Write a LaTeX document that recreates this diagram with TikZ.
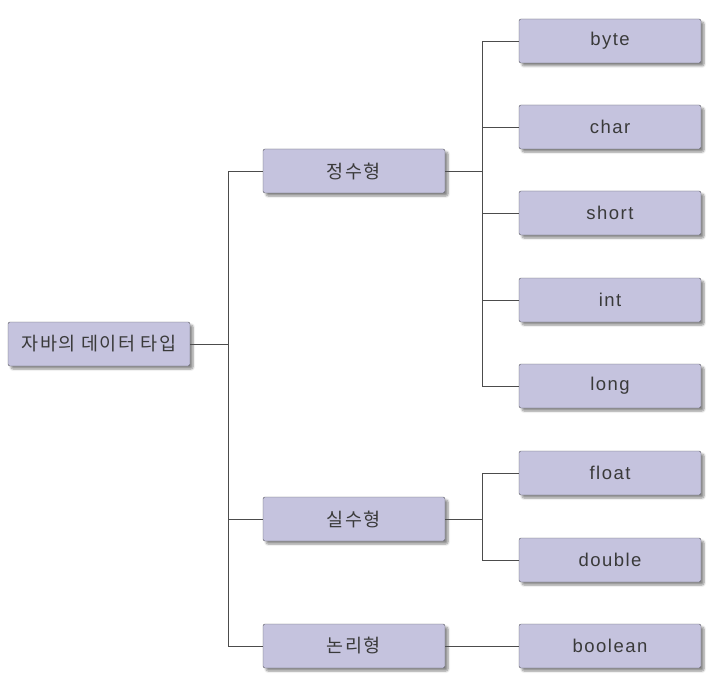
\documentclass[tikz,border=0pt]{standalone}
\usepackage{fontspec}
\setmainfont{Liberation Sans}[LetterSpace=8]
\newfontfamily\kofont{Noto Sans CJK KR}[LetterSpace=8]
\usepackage{tikz}
\usetikzlibrary{
  positioning,
  shadows.blur
}
\definecolor{boxfill}{HTML}{C5C3DE}
\definecolor{boxline}{HTML}{55555C}
\definecolor{textgray}{HTML}{3A3A3A}

\begin{document}
\begin{tikzpicture}[
  x=1pt, y=-1pt,
  typeB/.style={
    draw=boxline, rounded corners=2pt, minimum width=182pt, minimum height=44pt,
    align=center, font=\fontsize{18.5}{22}\selectfont, text=textgray, fill=boxfill,
    blur shadow={shadow xshift=3pt, shadow yshift=-3pt, shadow blur steps=6, shadow opacity=45},
  },
  link/.style={draw=black!70, line width=0.7pt},
]
\useasboundingbox (0,0) rectangle (725,679);

% Root
\node[typeB] (root) at (99,344) {\kofont 자바의 데이터 타입};

% Groups
\node[typeB] (intg) at (354,171) {\kofont 정수형};
\node[typeB] (realg) at (354,519) {\kofont 실수형};
\node[typeB] (boolg) at (354,646) {\kofont 논리형};

% Leaves
\node[typeB] (byte) at (610,41) {byte};
\node[typeB] (char) at (610,127) {char};
\node[typeB] (short) at (610,213) {short};
\node[typeB] (int) at (610,300) {int};
\node[typeB] (long) at (610,386) {long};
\node[typeB] (float) at (610,473) {float};
\node[typeB] (double) at (610,560) {double};
\node[typeB] (boolean) at (610,646) {boolean};

% Connectors
\coordinate (trunk) at (228,344);
\draw[link] (root.east) -- (trunk);
\foreach \grp in {intg,realg,boolg}
  \draw[link] (trunk) |- (\grp.west);

\coordinate (ibranch) at (482,171);
\draw[link] (intg.east) -- (ibranch);
\foreach \leaf in {byte,char,short,int,long}
  \draw[link] (ibranch) |- (\leaf.west);

\coordinate (rbranch) at (482,519);
\draw[link] (realg.east) -- (rbranch);
\foreach \leaf in {float,double}
  \draw[link] (rbranch) |- (\leaf.west);

\draw[link] (boolg.east) -- (boolean.west);

\end{tikzpicture}
\end{document}
